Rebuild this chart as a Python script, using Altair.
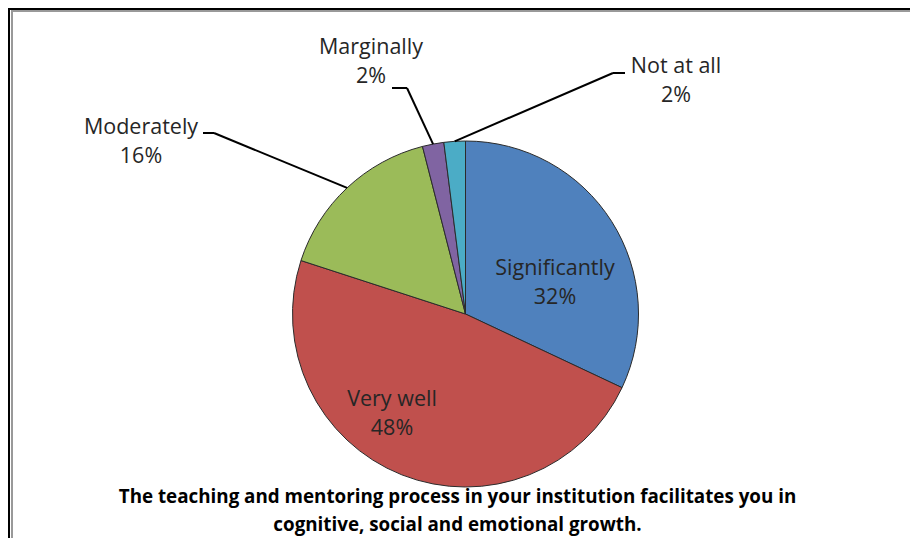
import math
import altair as alt
import pandas as pd

# ---- data ----
categories = ["Significantly", "Very well", "Moderately", "Marginally", "Not at all"]
values = [32, 48, 16, 2, 2]
colors = ["#4F81BD", "#C0504D", "#9BBB59", "#8064A2", "#4BACC6"]

title_lines = [
    "The teaching and  mentoring process in your institution facilitates you in",
    "cognitive, social and emotional growth.",
]

# ---- layout (chart pixel coordinates) ----
W, H = 902, 530
CX, CY, R = 457.5, 306, 173
label_pos = {  # position of first label line
    "Significantly": (547, 261),
    "Very well": (384, 392),
    "Moderately": (133, 120),
    "Marginally": (363, 40),
    "Not at all": (668, 59),
}
# elbow of leader lines: (text-side x, elbow x, y)
leaders = {
    "Moderately": (195, 206, 125),
    "Marginally": (384, 399, 80),
    "Not at all": (617, 605, 65),
}

pie_df = pd.DataFrame({
    "category": categories,
    "value": values,
    "idx": list(range(len(categories))),
})

color_scale = alt.Scale(domain=categories, range=colors)

pie = alt.Chart(pie_df).mark_arc(
    outerRadius=R, stroke="#2b2b2b", strokeWidth=1
).encode(
    theta=alt.Theta("value:Q", stack=True),
    order=alt.Order("idx:Q"),
    color=alt.Color("category:N", scale=color_scale, legend=None),
    x=alt.value(CX),
    y=alt.value(CY),
)

# labels
lab_rows = []
for c, v in zip(categories, values):
    lx, ly = label_pos[c]
    lab_rows.append({"x": lx, "y": ly, "text": f"{c}\n{v}%"})
lab_df = pd.DataFrame(lab_rows)
labels = alt.Chart(lab_df).mark_text(
    font="Open Sans", fontSize=21.5, color="#262626", lineBreak="\n", lineHeight=29,
    align="center", baseline="middle"
).encode(
    x=alt.X("x:Q", scale=None),
    y=alt.Y("y:Q", scale=None),
    text="text:N",
)

# leader lines: from label elbow to slice mid-angle on rim
total = sum(values)
cum = 0
mids = {}
for c, v in zip(categories, values):
    mids[c] = (cum + v / 2) / total * 2 * math.pi
    cum += v
seg_rows = []
for c, (x0, x1, y) in leaders.items():
    a = mids[c]
    px = CX + R * math.sin(a)
    py = CY - R * math.cos(a)
    seg_rows.append({"x": x0, "y": y, "x2": x1, "y2": y})
    seg_rows.append({"x": x1, "y": y, "x2": px, "y2": py})
seg_df = pd.DataFrame(seg_rows)
segs = alt.Chart(seg_df).mark_rule(color="#000000", strokeWidth=2).encode(
    x=alt.X("x:Q", scale=None), y=alt.Y("y:Q", scale=None),
    x2="x2:Q", y2="y2:Q",
)

# title at bottom
t_df = pd.DataFrame({"text": title_lines, "y": [489, 517]})
title = alt.Chart(t_df).mark_text(
    font="Open Sans", fontSize=18.8, fontWeight="bold", color="#000000",
    align="center", baseline="middle"
).encode(
    x=alt.value(449.5), y=alt.Y("y:Q", scale=None), text="text:N"
)

# frame
frame_top = alt.Chart(pie_df).mark_rule(color="#000000", strokeWidth=2).encode(
    x=alt.value(0), x2=alt.value(W), y=alt.value(1), y2=alt.value(1))
frame_top2 = alt.Chart(pie_df).mark_rule(color="#999999", strokeWidth=2).encode(
    x=alt.value(3), x2=alt.value(W), y=alt.value(3), y2=alt.value(3))
frame_left = alt.Chart(pie_df).mark_rule(color="#000000", strokeWidth=2).encode(
    x=alt.value(1), x2=alt.value(1), y=alt.value(0), y2=alt.value(H))
frame_left2 = alt.Chart(pie_df).mark_rule(color="#999999", strokeWidth=2).encode(
    x=alt.value(4), x2=alt.value(4), y=alt.value(3), y2=alt.value(H))

chart = alt.layer(
    frame_top, frame_top2, frame_left, frame_left2, pie, segs, labels, title
).properties(
    width=W, height=H, autosize=alt.AutoSizeParams(type="none"), padding=0,
    background="#ffffff",
).configure_view(stroke=None)

chart.save("out.html", embed_options={"renderer": "svg", "actions": False})
